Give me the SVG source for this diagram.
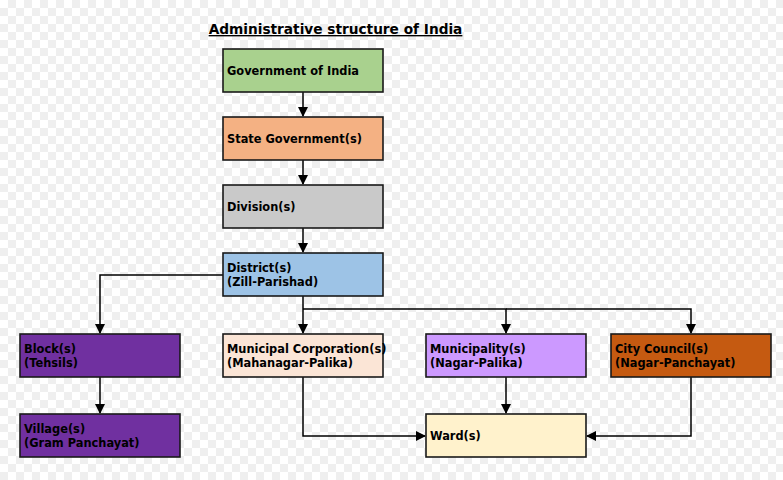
<svg xmlns="http://www.w3.org/2000/svg" width="783" height="480" viewBox="0 0 783 480">
<defs>
<pattern id="chk" x="0" y="0" width="16" height="16" patternUnits="userSpaceOnUse">
<rect width="16" height="16" fill="#ffffff"/>
<rect x="8" y="0" width="8" height="8" fill="#efefef"/>
<rect x="0" y="8" width="8" height="8" fill="#efefef"/>
</pattern>
<marker id="arr" markerWidth="10" markerHeight="10" refX="9" refY="5" orient="auto" markerUnits="userSpaceOnUse">
<path d="M0,0 L10,5 L0,10 Z" fill="#000"/>
</marker>
<style>
.box{stroke:#1a1a1a;stroke-width:1.6}
.t{font-family:"DejaVu Sans",sans-serif;font-weight:bold;font-size:11.4px;fill:#000}
.c{fill:none;stroke:#000;stroke-width:1.5}
</style>
</defs>
<rect width="783" height="480" fill="url(#chk)"/>
<text x="335.5" y="34" text-anchor="middle" font-family="DejaVu Sans, sans-serif" font-weight="bold" font-size="13.7" text-decoration="underline" fill="#000">Administrative structure of India</text>

<g id="connectors">
<path class="c" d="M303,92 V116" marker-end="url(#arr)"/>
<path class="c" d="M303,160 V184" marker-end="url(#arr)"/>
<path class="c" d="M303,228 V252" marker-end="url(#arr)"/>
<path class="c" d="M223,275 H100 V333" marker-end="url(#arr)"/>
<path class="c" d="M303,296 V333" marker-end="url(#arr)"/>
<path class="c" d="M303,309 H506 V333" marker-end="url(#arr)"/>
<path class="c" d="M506,309 H691 V333" marker-end="url(#arr)"/>
<path class="c" d="M100,377 V413" marker-end="url(#arr)"/>
<path class="c" d="M303,377 V436 H425" marker-end="url(#arr)"/>
<path class="c" d="M506,377 V413" marker-end="url(#arr)"/>
<path class="c" d="M691,377 V436 H587" marker-end="url(#arr)"/>
</g>

<g id="gov"><rect class="box" x="223" y="49" width="160" height="43" fill="#a9d18e"/><text class="t" x="227" y="75">Government of India</text></g>
<g id="state"><rect class="box" x="223" y="117" width="160" height="43" fill="#f4b183"/><text class="t" x="227" y="143">State Government(s)</text></g>
<g id="division"><rect class="box" x="223" y="185" width="160" height="43" fill="#c9c9c9"/><text class="t" x="227" y="211">Division(s)</text></g>
<g id="district"><rect class="box" x="223" y="253" width="160" height="43" fill="#9dc3e6"/><text class="t" x="227" y="272">District(s)</text><text class="t" x="227" y="286">(Zill-Parishad)</text></g>
<g id="block"><rect class="box" x="20" y="334" width="160" height="43" fill="#7030a0"/><text class="t" x="24" y="353">Block(s)</text><text class="t" x="24" y="367">(Tehsils)</text></g>
<g id="municorp"><rect class="box" x="223" y="334" width="160" height="43" fill="#fbe5d6"/><text class="t" x="227" y="353">Municipal Corporation(s)</text><text class="t" x="227" y="367">(Mahanagar-Palika)</text></g>
<g id="municipality"><rect class="box" x="426" y="334" width="160" height="43" fill="#cc99ff"/><text class="t" x="430" y="353">Municipality(s)</text><text class="t" x="430" y="367">(Nagar-Palika)</text></g>
<g id="citycouncil"><rect class="box" x="611" y="334" width="160" height="43" fill="#c55a11"/><text class="t" x="615" y="353">City Council(s)</text><text class="t" x="615" y="367">(Nagar-Panchayat)</text></g>
<g id="village"><rect class="box" x="20" y="414" width="160" height="43" fill="#7030a0"/><text class="t" x="24" y="433">Village(s)</text><text class="t" x="24" y="447">(Gram Panchayat)</text></g>
<g id="ward"><rect class="box" x="426" y="414" width="160" height="43" fill="#fff2cc"/><text class="t" x="430" y="440">Ward(s)</text></g>
</svg>
